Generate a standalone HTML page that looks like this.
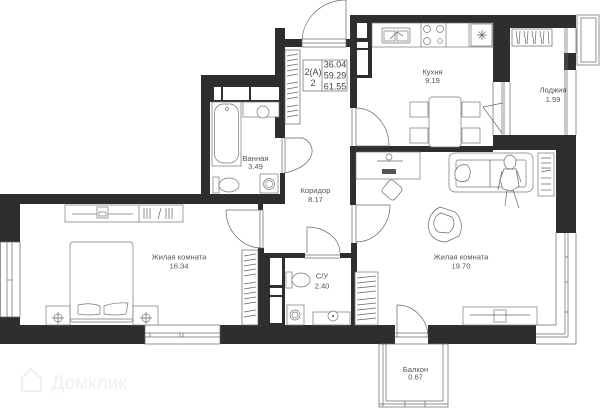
<!DOCTYPE html>
<html><head><meta charset="utf-8"><style>
html,body{margin:0;padding:0;background:#fff;}
svg{display:block}
.w{fill:#2e2e2e}
.l{fill:none;stroke:#666;stroke-width:0.7}
.f{fill:#fff;stroke:#777;stroke-width:0.7}
text{font-family:"Liberation Sans",sans-serif;font-size:7.6px;fill:#555;text-anchor:middle}
.n{font-size:9px;fill:#444}
</style></head><body>
<svg width="600" height="408" viewBox="0 0 600 408" xmlns="http://www.w3.org/2000/svg">
<!-- watermark -->
<path d="M22,378 L31,369 L41,378 L41,391 L22,391 Z" fill="none" stroke="#f0f0f0" stroke-width="2"/>
<text x="89" y="389" style="font-size:19px;fill:#f0f0f0">Домклик</text>

<!-- WALLS -->
<rect class="w" x="275" y="28" width="10" height="110"/>
<rect class="w" x="285" y="39" width="17" height="8"/>
<rect class="w" x="346" y="39" width="6" height="8"/>
<rect class="w" x="350" y="15" width="22" height="63"/>
<rect class="w" x="350" y="15" width="7" height="93"/>
<rect x="357" y="23" width="10" height="15" fill="#fff"/>
<rect x="357" y="42" width="11" height="6" fill="#fff"/>
<rect x="357" y="50" width="11" height="25" fill="#fff"/>
<rect class="w" x="350" y="15" width="143" height="8"/>
<rect class="w" x="493" y="15" width="83" height="13"/>
<rect class="w" x="493" y="15" width="17" height="67"/>
<rect class="w" x="564" y="53" width="12" height="17"/>
<rect class="w" x="493" y="135" width="83" height="15"/>
<rect class="w" x="350" y="146" width="143" height="6"/>
<rect class="w" x="556" y="135" width="20" height="98"/>
<rect class="w" x="350" y="146" width="6" height="59"/>
<rect class="w" x="351" y="243" width="6" height="82"/>
<rect class="w" x="0" y="325" width="145" height="19"/>
<rect class="w" x="220" y="325" width="175" height="19"/>
<rect class="w" x="428" y="325" width="108" height="19"/>
<rect class="w" x="0" y="194" width="20" height="48"/>
<rect class="w" x="0" y="317" width="20" height="27"/>
<rect class="w" x="0" y="194" width="285" height="10"/>
<rect class="w" x="201" y="75" width="84" height="27"/>
<rect x="214" y="87" width="7" height="13" fill="#fff"/>
<rect x="223" y="87" width="26" height="13" fill="#fff"/>
<rect x="251" y="87" width="28" height="13" fill="#fff"/>
<rect class="w" x="201" y="75" width="9" height="129"/>
<rect class="w" x="280" y="173" width="5" height="31"/>
<rect class="w" x="258" y="204" width="5" height="6"/>
<rect class="w" x="258" y="248" width="6" height="77"/>
<rect class="w" x="264" y="253" width="21" height="72"/>
<rect x="270" y="258" width="12" height="27" fill="#fff"/>
<rect x="270" y="288" width="12" height="7" fill="#fff"/>
<rect x="270" y="297" width="12" height="26" fill="#fff"/>
<rect class="w" x="285" y="253" width="20" height="5"/>
<rect class="w" x="340" y="253" width="17" height="5"/>

<!-- WINDOWS -->
<g class="l">
<rect x="0.5" y="242" width="19.5" height="75"/>
<line x1="7" y1="242" x2="7" y2="317"/><line x1="12" y1="242" x2="12" y2="317"/>
<line x1="7" y1="280" x2="12" y2="280"/>
<rect x="145" y="325" width="75" height="19"/>
<line x1="145" y1="333" x2="220" y2="333"/><line x1="145" y1="337" x2="220" y2="337"/>
<line x1="150" y1="333" x2="150" y2="337"/><line x1="180" y1="333" x2="180" y2="337"/><line x1="183" y1="333" x2="183" y2="337"/>
<line x1="556" y1="233" x2="556" y2="325"/><line x1="565" y1="233" x2="565" y2="334"/><line x1="568" y1="233" x2="568" y2="337"/><line x1="576" y1="233" x2="576" y2="344"/>
<line x1="565" y1="257" x2="568" y2="257"/><line x1="565" y1="282" x2="568" y2="282"/><line x1="565" y1="312" x2="568" y2="312"/>
<line x1="536" y1="325" x2="556" y2="325"/><line x1="536" y1="334" x2="565" y2="334"/><line x1="536" y1="337" x2="568" y2="337"/><line x1="536" y1="344" x2="576" y2="344"/>
<line x1="565" y1="28" x2="565" y2="135"/><line x1="567" y1="28" x2="567" y2="135"/>
<line x1="576" y1="28" x2="576" y2="53"/><line x1="576" y1="70" x2="576" y2="135"/>
<rect x="577" y="15" width="22" height="50"/><rect x="581" y="18" width="15" height="44"/>
<rect x="379" y="344" width="69" height="63"/>
<line x1="383" y1="344" x2="383" y2="407"/><line x1="386" y1="344" x2="386" y2="401"/><line x1="443" y1="344" x2="443" y2="401"/><line x1="386" y1="401" x2="443" y2="401"/><line x1="379" y1="404" x2="448" y2="404"/>
<line x1="405" y1="401" x2="405" y2="407"/><line x1="425" y1="401" x2="425" y2="407"/>
</g>

<!-- DOORS -->
<g class="l">
<rect x="302" y="39" width="44" height="8"/><line x1="302" y1="43" x2="346" y2="43"/>
<line x1="346" y1="0" x2="346" y2="40"/><path d="M302,40 A44,42 0 0 1 346,0"/>
<line x1="352" y1="108" x2="352" y2="146"/><line x1="356" y1="108" x2="356" y2="146"/>
<line x1="356" y1="146" x2="389" y2="146"/><path d="M356,108 A33,38 0 0 1 389,146"/>
<line x1="282" y1="138" x2="282" y2="173"/><line x1="285" y1="138" x2="285" y2="173"/>
<path d="M285,138 L303,138 C318,145 316,166 285,173"/>
<line x1="260" y1="210" x2="260" y2="248"/><line x1="263" y1="210" x2="263" y2="248"/>
<line x1="226" y1="210" x2="262" y2="210"/><path d="M226,210 A36,38 0 0 0 262,248"/>
<line x1="305" y1="255" x2="340" y2="255"/><line x1="305" y1="258" x2="340" y2="258"/>
<line x1="307" y1="227" x2="307" y2="253"/><path d="M307,227 A33,26 0 0 1 340,253"/>
<line x1="352" y1="205" x2="352" y2="243"/><line x1="356" y1="205" x2="356" y2="243"/>
<line x1="356" y1="205" x2="390" y2="205"/><path d="M390,205 A34,37 0 0 1 356,242"/>
<line x1="395" y1="333" x2="428" y2="333"/><line x1="395" y1="337" x2="428" y2="337"/>
<line x1="397" y1="305" x2="397" y2="337"/><path d="M397,305 A31,32 0 0 1 428,337"/>
<line x1="493" y1="82" x2="493" y2="135"/><line x1="502" y1="82" x2="502" y2="135"/><line x1="504" y1="82" x2="504" y2="135"/><line x1="510" y1="82" x2="510" y2="135"/>
<polyline points="503,103 483,107 502,133"/>
</g>

<!-- BATHROOM -->
<g class="f">
<rect x="212" y="102" width="29" height="64"/>
<rect x="214.5" y="104" width="24" height="59" rx="9"/>
<circle cx="227" cy="109" r="1.5"/>
<rect x="243" y="102" width="36" height="15"/>
<circle cx="263" cy="112" r="6"/>
<rect x="213" y="177" width="6" height="16"/>
<ellipse cx="229" cy="185" rx="10" ry="7"/>
<rect x="260" y="174" width="18" height="19"/>
<circle cx="269" cy="184" r="5.5"/><circle cx="269" cy="184" r="3.5"/>
</g>
<!-- WC -->
<g class="f">
<rect x="286" y="272" width="6" height="16"/>
<ellipse cx="301" cy="280" rx="9" ry="7"/>
<rect x="287" y="305" width="17" height="20"/>
<circle cx="295" cy="315" r="5"/><circle cx="295" cy="315" r="3"/>
<rect x="313" y="312" width="37" height="13"/>
<circle cx="333" cy="316" r="5"/><circle cx="333" cy="316" r="0.8" fill="#555"/>
</g>

<!-- KITCHEN -->
<g class="f">
<rect x="372" y="23" width="121" height="24"/>
<line x1="421" y1="23" x2="421" y2="47"/><line x1="446" y1="23" x2="446" y2="47"/><line x1="469" y1="23" x2="469" y2="47"/>
<rect x="382" y="28" width="28" height="15" rx="1.5"/>
<rect x="384" y="31" width="11" height="10"/><rect x="397" y="31" width="11" height="10"/>
<circle cx="427" cy="29" r="3.5"/><circle cx="440" cy="29" r="3.5"/><circle cx="427" cy="41" r="3.5"/><circle cx="440" cy="41" r="2.3"/>
<rect x="471" y="24" width="21" height="22"/>
<rect x="429" y="97" width="32" height="50" rx="3"/>
<rect x="410" y="102" width="18" height="15"/><rect x="410" y="128" width="18" height="15"/>
<rect x="462" y="102" width="18" height="15"/><rect x="462" y="128" width="18" height="15"/>
</g>
<g class="l"><path d="M477,35 H487 M482,30 V40 M478.5,31.5 L485.5,38.5 M485.5,31.5 L478.5,38.5"/><path d="M390,39 L397,32 L403,36"/></g>

<!-- LOGGIA RACK -->
<g class="l">
<rect x="512" y="29" width="40" height="17"/>
<path d="M516,31 L518,44 M520,31 L519,44 M524,31 L526,44 M528,31 L527,44 M532,31 L534,44 M536,31 L535,44 M540,31 L542,44 M544,31 L543,44 M548,31 L549,44"/>
</g>

<!-- CORRIDOR WARDROBE & info box -->
<g class="l">
<rect x="285" y="50" width="15" height="74"/>
<path d="M287,56 L298,54 M287,61 L298,59 M287,66 L298,64 M287,71 L298,69 M287,76 L298,74 M287,84 L298,82 M287,89 L298,87 M287,94 L298,92 M287,99 L298,97 M287,107 L298,105 M287,112 L298,110 M287,117 L298,115"/>
<rect x="303" y="60" width="44" height="31"/><line x1="322" y1="60" x2="322" y2="91"/>
</g>
<text class="n" x="313" y="75">2(A)</text>
<text class="n" x="313" y="86">2</text>
<text class="n" x="335" y="67.5">36.04</text>
<text class="n" x="335" y="78.5">59.29</text>
<text class="n" x="335" y="89.5">61.55</text>

<!-- BEDROOM -->
<g class="f">
<rect x="65" y="205" width="118" height="17"/>
<line x1="139" y1="205" x2="139" y2="222"/>
<line x1="72" y1="214" x2="133" y2="214"/>
<rect x="97" y="207" width="11" height="11"/>
<rect x="99" y="212" width="7" height="4"/>
<rect x="70" y="242" width="63" height="80" rx="3"/>
<line x1="70" y1="319" x2="133" y2="319"/>
<path d="M78,305 Q90,302 100,306 L100,314 Q90,316 78,314 Z"/>
<path d="M104,306 Q115,302 128,303 L126,314 Q115,316 104,314 Z"/>
<rect x="46" y="306" width="24" height="19"/>
<rect x="133" y="306" width="25" height="19"/>
<circle cx="58" cy="318" r="4"/><circle cx="146" cy="318" r="4"/>
</g>
<g class="l">
<path d="M52,318 H64 M58,312 V324 M140,318 H152 M146,312 V324"/>
<path d="M144,208 V219 M147,208 V219 M150,208 V219 M158,219 L161,208 M166,208 V219 M169,208 V219 M172,208 V219"/>
<rect x="242" y="250" width="16" height="75"/>
<path d="M244,256 L256,254 M244,261 L256,259 M244,266 L256,264 M244,271 L256,269 M244,276 L256,274 M244,284 L256,282 M244,289 L256,287 M244,294 L256,292 M244,299 L256,297 M244,304 L256,302 M244,312 L256,310 M244,317 L256,315"/>
</g>

<!-- LIVING ROOM -->
<g class="f">
<rect x="356" y="152" width="64" height="27"/>
<circle cx="389" cy="157" r="3"/>
<rect x="463" y="307" width="74" height="18"/>
<rect x="494" y="310" width="12" height="12"/>
<rect x="449" y="153" width="84" height="39" rx="6"/>
<rect x="456" y="160" width="70" height="27" rx="2"/>
<rect x="538" y="153" width="16" height="43"/>
<rect x="355" y="272" width="23" height="53"/>
</g>
<rect x="382" y="169" width="14" height="5" fill="#555"/>
<g class="l">
<line x1="377" y1="161" x2="403" y2="161"/>
<line x1="470" y1="315" x2="530" y2="315"/>
<line x1="490" y1="160" x2="490" y2="187"/>
<rect x="384" y="182" width="16" height="16" rx="3" transform="rotate(40 392 190)" fill="#fff"/>
<path d="M455,172 Q458,163 467,165 Q473,170 468,180 Q460,184 455,178 Z" fill="#fff"/>
<path d="M541,158 H551 M541,163 H551 M541,168 H551 M541,172 L551,170 M541,178 H551 M541,184 H551 M541,190 H551"/>
<path d="M431,235 A20,20 0 0 1 440,207 L455,212 A20,20 0 0 1 459,236 L446,242 A20,20 0 0 1 431,235 Z" fill="#fff"/>
<path d="M438,232 A11,11 0 0 1 441,213 L452,217 A11,11 0 0 1 448,233 Z"/>
<ellipse cx="510" cy="162" rx="6" ry="7" fill="#fff"/>
<path d="M504,169 L516,169 L519,186 L512,191 L503,189 L500,180 Z" fill="#fff"/>
<path d="M502,171 L498,190 M517,171 L521,182 M507,190 L505,206 M513,190 L519,208"/>
<path d="M357,278 L376,276 M357,283 L376,281 M357,288 L376,286 M357,293 L376,291 M357,300 L376,298 M357,305 L376,303 M357,310 L376,308 M357,315 L376,313 M357,320 L376,318"/>
</g>

<!-- LABELS -->
<text x="432.5" y="74.5">Кухня</text>
<text x="432.5" y="83">9.19</text>
<text x="553" y="92.5">Лоджия</text>
<text x="553" y="102">1.59</text>
<text x="255.5" y="161">Ванная</text>
<text x="255.5" y="169">3.49</text>
<text x="315.5" y="193">Коридор</text>
<text x="315.5" y="202">8.17</text>
<text x="179" y="259.5">Жилая комната</text>
<text x="179" y="268.5">16.34</text>
<text x="461" y="259.5">Жилая комната</text>
<text x="461" y="268.5">19.70</text>
<text x="322" y="278.5">С/У</text>
<text x="322" y="288.5">2.40</text>
<text x="415.5" y="372">Балкон</text>
<text x="415.5" y="379.5">0.67</text>
</svg>
</body></html>
